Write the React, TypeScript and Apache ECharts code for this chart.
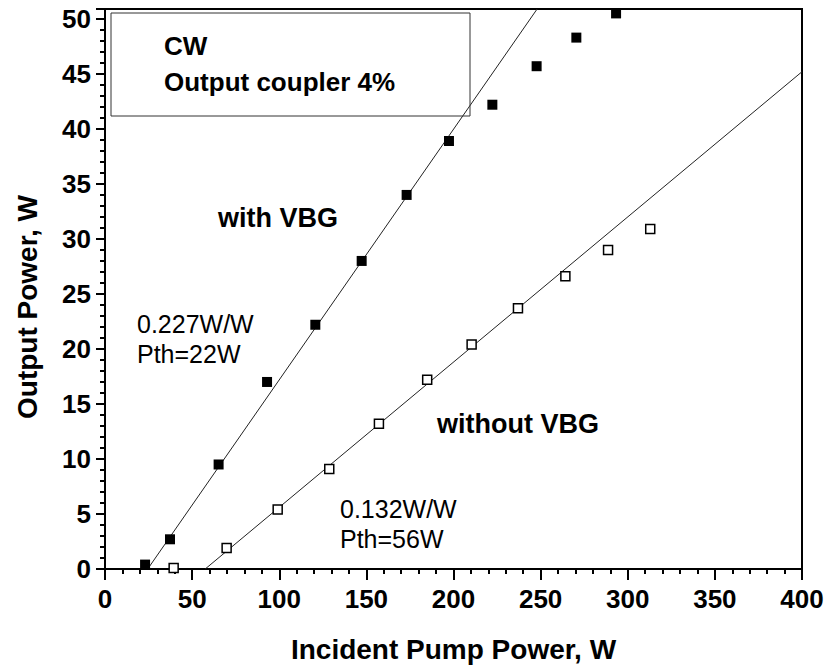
import React, { useEffect, useRef } from "react";
import * as echarts from "echarts";

const withVbgX = [23, 37.3, 65.2, 93, 120.7, 147.3, 173.1, 197.4, 222.3, 247.7, 270.5, 293.3];
const withVbgY = [0.4, 2.7, 9.5, 17.0, 22.2, 28.0, 34.0, 38.9, 42.2, 45.7, 48.3, 50.5];
const withoutVbgX = [39.4, 69.8, 99.1, 128.7, 157.2, 184.9, 210.4, 237.0, 264.2, 288.7, 312.9];
const withoutVbgY = [0.1, 1.9, 5.4, 9.1, 13.2, 17.2, 20.4, 23.7, 26.6, 29.0, 30.9];
const withFitX = [24.5, 248];
const withFitY = [0, 50.9];
const withoutFitX = [57.5, 400];
const withoutFitY = [0, 45.2];

const FONT = 'Arial, "Liberation Sans", sans-serif';

const zip = (xs: number[], ys: number[]) => xs.map((x, i) => [x, ys[i]]);

export default function App() {
  const ref = useRef<HTMLDivElement>(null);
  useEffect(() => {
    const chart = echarts.init(ref.current!, null, { renderer: "svg" });
    chart.setOption({
      animation: false,
      backgroundColor: "#fff",
      grid: {
        left: 105,
        right: 25,
        top: 9,
        bottom: 98,
        show: true,
        borderColor: "#000",
        borderWidth: 2,
      },
      xAxis: {
        type: "value",
        min: 0,
        max: 400,
        interval: 50,
        name: "Incident Pump Power, W",
        nameLocation: "middle",
        nameGap: 66,
        nameTextStyle: { fontFamily: FONT, fontWeight: "bold", fontSize: 28, color: "#000" },
        axisLine: { lineStyle: { color: "#000", width: 2 } },
        axisTick: { length: 11, lineStyle: { color: "#000", width: 2 } },
        minorTick: { show: true, splitNumber: 5, length: 5, lineStyle: { color: "#000", width: 2 } },
        splitLine: { show: false },
        axisLabel: { fontFamily: FONT, fontWeight: "bold", fontSize: 26, color: "#000", margin: 17 },
      },
      yAxis: {
        type: "value",
        min: 0,
        max: 50.9,
        interval: 5,
        name: "Output Power, W",
        nameLocation: "middle",
        nameGap: 64,
        nameRotate: 90,
        nameTextStyle: {
          fontFamily: FONT,
          fontWeight: "bold",
          fontSize: 28,
          color: "#000",
          padding: [0, 36, 0, 0],
        },
        axisLine: { lineStyle: { color: "#000", width: 2 } },
        axisTick: { length: 9, lineStyle: { color: "#000", width: 2 } },
        minorTick: { show: true, splitNumber: 5, length: 5, lineStyle: { color: "#000", width: 2 } },
        splitLine: { show: false },
        axisLabel: {
          fontFamily: FONT,
          fontWeight: "bold",
          fontSize: 26,
          color: "#000",
          margin: 14,
          formatter: (v: number) => (Math.abs(v % 5) < 1e-9 ? String(v) : ""),
        },
      },
      series: [
        {
          type: "line",
          data: zip(withFitX, withFitY),
          symbol: "none",
          lineStyle: { color: "#222", width: 1 },
          z: 1,
        },
        {
          type: "line",
          data: zip(withoutFitX, withoutFitY),
          symbol: "none",
          lineStyle: { color: "#222", width: 1 },
          z: 1,
        },
        {
          type: "scatter",
          name: "with VBG",
          data: zip(withVbgX, withVbgY),
          symbol: "rect",
          symbolSize: 10,
          itemStyle: { color: "#000", opacity: 1 },
          z: 3,
        },
        {
          type: "scatter",
          name: "without VBG",
          data: zip(withoutVbgX, withoutVbgY),
          symbol: "rect",
          symbolSize: 9,
          itemStyle: { color: "#fff", borderColor: "#000", borderWidth: 1.5, opacity: 1 },
          z: 3,
        },
      ],
      graphic: [
        {
          type: "rect",
          shape: { x: 111, y: 13, width: 359, height: 103 },
          style: { fill: "none", stroke: "#333", lineWidth: 1 },
          z: 5,
        },
        {
          type: "text",
          x: 164,
          y: 46,
          style: { text: "CW", font: `bold 26px ${FONT}`, fill: "#000", verticalAlign: "middle" },
          z: 5,
        },
        {
          type: "text",
          x: 164,
          y: 82,
          style: { text: "Output coupler 4%", font: `bold 26px ${FONT}`, fill: "#000", verticalAlign: "middle" },
          z: 5,
        },
        {
          type: "text",
          x: 218,
          y: 218,
          style: { text: "with VBG", font: `bold 27px ${FONT}`, fill: "#000", verticalAlign: "middle" },
          z: 5,
        },
        {
          type: "text",
          x: 437,
          y: 424,
          style: { text: "without VBG", font: `bold 27px ${FONT}`, fill: "#000", verticalAlign: "middle" },
          z: 5,
        },
        {
          type: "text",
          x: 137,
          y: 324,
          style: { text: "0.227W/W", font: `25px ${FONT}`, fill: "#000", verticalAlign: "middle" },
          z: 5,
        },
        {
          type: "text",
          x: 137,
          y: 354,
          style: { text: "Pth=22W", font: `25px ${FONT}`, fill: "#000", verticalAlign: "middle" },
          z: 5,
        },
        {
          type: "text",
          x: 340,
          y: 509,
          style: { text: "0.132W/W", font: `25px ${FONT}`, fill: "#000", verticalAlign: "middle" },
          z: 5,
        },
        {
          type: "text",
          x: 340,
          y: 539,
          style: { text: "Pth=56W", font: `25px ${FONT}`, fill: "#000", verticalAlign: "middle" },
          z: 5,
        },
      ],
    });
    return () => chart.dispose();
  }, []);
  return <div ref={ref} style={{ width: 827, height: 668, position: "absolute", left: 0, top: 0 }} />;
}
